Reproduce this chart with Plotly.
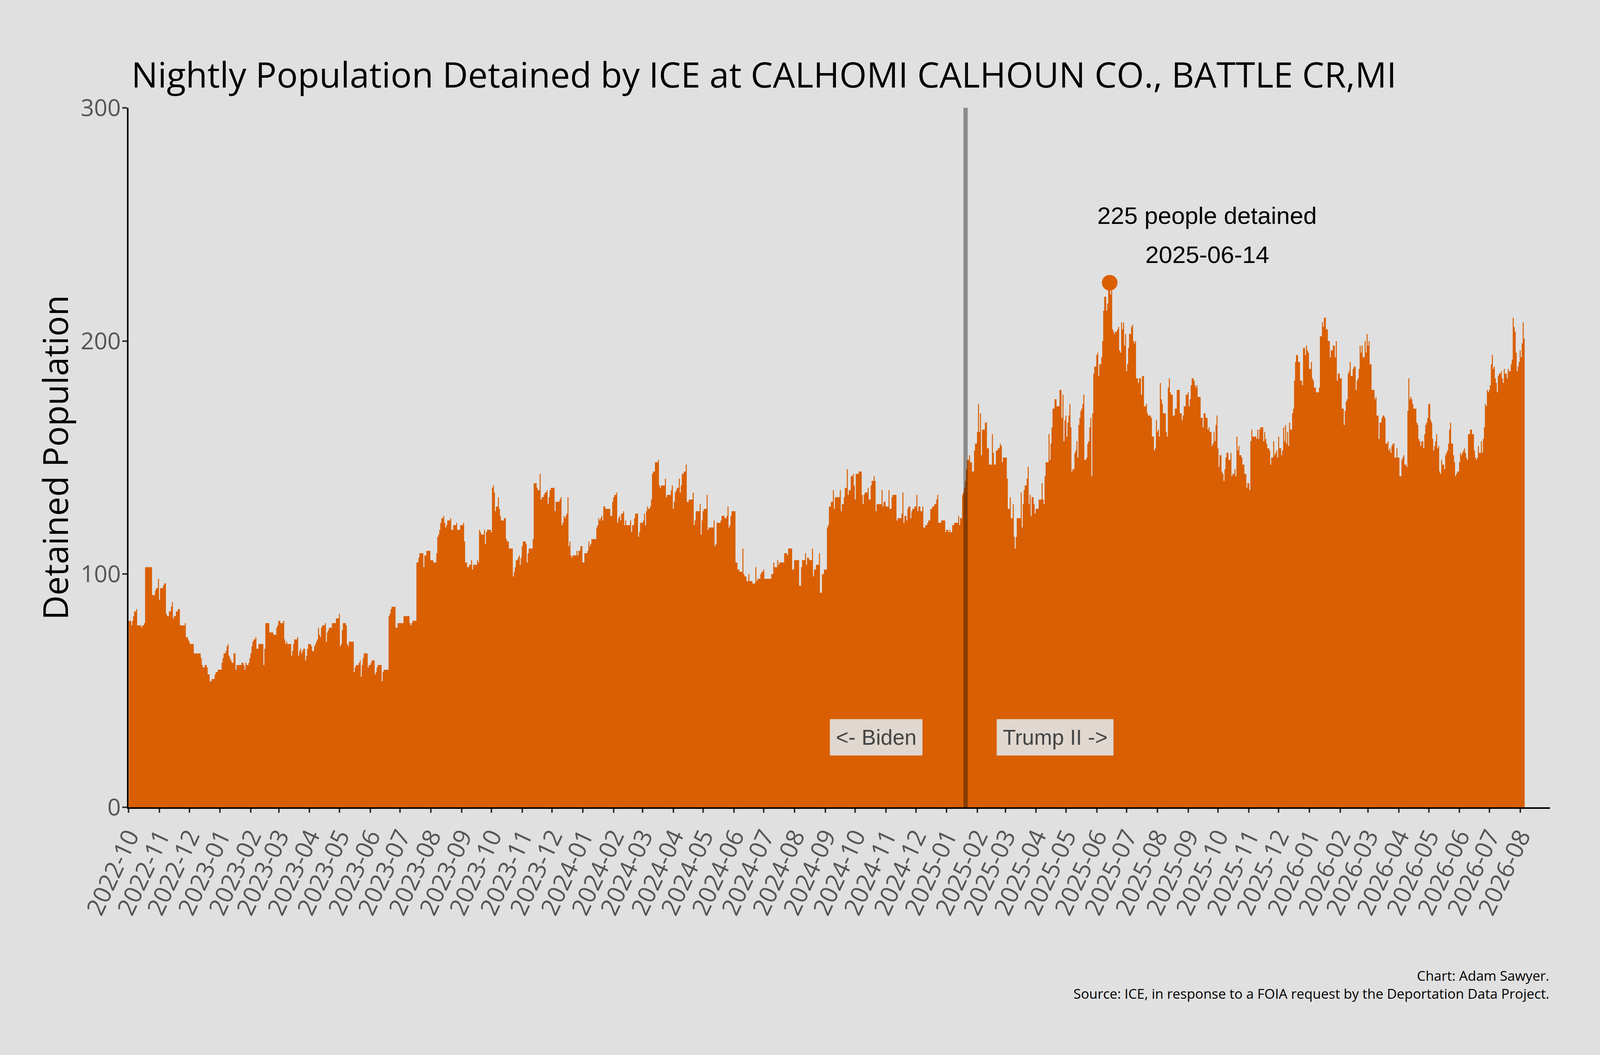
import pandas as pd
import plotly.graph_objects as go

# ---------------- data ----------------
START_DATE = "2022-10-01"
X_END = "2026-08-31"
TRANSITION_DATE = "2025-01-20"
PEAK_DATE = "2025-06-14"
PEAK_VALUE = 225
PEAK_LABEL_DATE = "2025-09-20"
Y_TICKS = [0, 100, 200, 300]

# day offsets (from START_DATE) at which the nightly count changes
DAY_OFFSETS = [
    0, 3, 4, 5, 6, 8, 9, 13, 14, 16, 17, 24, 27, 28, 30, 31, 32, 35, 36, 38, 39, 41, 43, 44, 45, 46, 48, 50,
    52, 57, 58, 60, 61, 62, 66, 73, 74, 75, 77, 79, 80, 82, 84, 87, 88, 90, 94, 95, 96, 98, 99, 100, 101,
    102, 103, 104, 106, 108, 109, 114, 116, 117, 118, 119, 121, 122, 123, 124, 125, 126, 128, 129, 131,
    136, 137, 138, 142, 146, 149, 150, 151, 153, 156, 157, 158, 159, 160, 164, 165, 166, 167, 170, 171,
    172, 173, 174, 175, 176, 178, 179, 180, 181, 184, 185, 187, 188, 189, 190, 191, 192, 193, 194, 195,
    198, 199, 200, 201, 202, 205, 209, 212, 213, 214, 215, 216, 219, 220, 221, 222, 227, 228, 229, 232,
    233, 234, 235, 236, 237, 241, 242, 244, 245, 248, 249, 250, 251, 255, 256, 257, 262, 263, 264, 265,
    269, 271, 277, 283, 284, 285, 286, 290, 292, 293, 297, 298, 300, 304, 307, 310, 311, 312, 313, 314,
    315, 317, 318, 319, 320, 321, 324, 325, 327,
    330, 331, 334, 337, 338, 339, 341, 343, 345, 346, 347, 351, 352, 353, 354, 355, 358, 359, 360, 361,
    365, 366, 367, 368, 369, 370, 372, 373, 374, 375, 378, 380, 381, 383, 387, 388, 389, 390, 392, 393,
    394, 395, 396, 397, 400, 401, 402, 403, 407, 408, 411, 412, 414, 415, 416, 418, 419, 421, 422, 423,
    424, 425, 429, 430, 434, 435, 436, 437, 438, 439, 440, 441, 442, 443, 444, 445, 446, 447, 451, 452,
    453, 455, 457, 459, 462, 463, 464, 465, 466, 471, 472, 473, 474, 475, 476, 477, 478, 480, 485, 487,
    488, 489, 491, 492, 493, 494, 495, 496, 498, 499, 500, 501, 505, 506, 507, 509, 510, 513, 514, 515,
    518, 519, 520, 521, 522, 523, 525, 526, 527, 528, 530, 533, 534, 535, 536, 540, 541, 542, 546, 547,
    548, 549, 550, 551, 552, 554, 555, 556, 557, 559, 561, 562, 564, 568, 569, 570, 571, 575, 576, 577,
    578, 579, 582, 583, 584, 589, 590, 591, 592, 596, 597, 600, 602, 603, 604, 605, 606, 607,
    608, 611, 613, 615, 618, 619, 620, 622, 624, 625, 628, 631, 632, 633, 636, 637, 639, 640, 647, 649,
    650, 653, 654, 655, 660, 663, 664, 668, 670, 675, 677, 678, 681, 682, 683, 685, 688, 689, 690, 692,
    695, 696, 698, 700, 703, 704, 705, 707, 709, 710, 711, 716, 717, 718, 720, 721, 723, 724, 725, 727,
    729, 730, 731, 732, 735, 738, 739, 740, 741, 744, 745, 747, 748, 750, 751, 752, 753, 758, 759, 760,
    762, 765, 766, 768, 769, 773, 774, 778, 779, 780, 781, 783, 784, 785, 787, 788, 789, 791, 793, 794,
    795, 797, 799, 800, 802, 804, 805, 807, 809, 811, 813, 814, 815, 818, 822, 823, 825, 826, 827, 829,
    831, 835, 836, 837, 839, 840, 841, 842, 843, 844, 846, 847, 849, 851, 852, 854, 855, 856, 857, 858,
    859, 862, 864, 866, 869, 870, 871, 873, 875, 877, 878, 879, 880, 884, 885, 887, 888, 890, 891, 892,
    893, 894, 898, 899, 900, 901, 902, 904, 905, 906, 907, 908, 909, 911, 912, 913, 916, 919, 920, 921,
    922, 923, 926, 927, 928, 929, 930, 932, 934, 937,
    939, 940, 941, 942, 943, 944, 945, 946, 947, 948, 949, 950, 952, 953, 954, 955, 956, 957, 958, 959,
    960, 961, 962, 964, 965, 966, 967, 968, 969, 970, 971, 972, 974, 975, 976, 977, 979, 980, 981, 982,
    984, 985, 986, 987, 988, 989, 990, 991, 992, 993, 995, 996, 997, 998, 999, 1000, 1001, 1002, 1003,
    1004, 1005, 1006, 1007, 1009, 1010, 1011, 1012, 1013, 1014, 1016, 1017, 1019, 1020, 1022, 1024, 1025,
    1026, 1029, 1030, 1032, 1033, 1034, 1035, 1036, 1037, 1038, 1039, 1040, 1041, 1044, 1045, 1046, 1047,
    1048, 1049, 1051, 1053, 1055, 1058, 1060, 1061, 1062, 1064, 1066, 1067, 1068, 1069, 1070, 1072, 1073,
    1074, 1075, 1076, 1079, 1081, 1082, 1084, 1086, 1087, 1088, 1090, 1091, 1092, 1093, 1094, 1095, 1096,
    1097, 1098, 1100, 1101, 1102, 1103, 1104, 1105, 1107, 1109, 1110, 1111, 1113, 1114, 1115, 1116, 1117,
    1118, 1120, 1121, 1123, 1125, 1126, 1128, 1129, 1130, 1131, 1135, 1136, 1137, 1138, 1139, 1142, 1143,
    1144, 1145, 1146, 1148, 1149, 1150, 1152, 1153, 1154, 1155, 1156, 1157, 1158, 1160, 1161, 1162, 1163,
    1164, 1165, 1166, 1167, 1168, 1169, 1171, 1172, 1173, 1174, 1175, 1177, 1179, 1181, 1182, 1184, 1185,
    1186, 1187, 1188, 1190, 1191, 1192, 1193, 1195, 1198, 1199, 1201, 1202, 1203, 1205, 1207, 1209, 1210,
    1212, 1214, 1215, 1216, 1217, 1219, 1221, 1223, 1224, 1225, 1226, 1227, 1228, 1229, 1230, 1232, 1233,
    1235, 1236, 1237, 1238, 1239, 1240, 1241, 1242, 1244, 1245, 1246, 1247, 1248, 1249, 1251, 1254, 1255,
    1256, 1258, 1259, 1261, 1262, 1264, 1265, 1267, 1268, 1269, 1270, 1271, 1272, 1274, 1276, 1277, 1279,
    1281, 1282, 1283, 1284, 1286, 1287, 1288, 1289, 1290, 1291, 1292, 1293, 1296, 1297, 1298, 1299, 1300,
    1301, 1303, 1304, 1305, 1306, 1307, 1308, 1310, 1311, 1312, 1313, 1314, 1315, 1316, 1317, 1318, 1319,
    1320, 1321, 1322, 1324, 1325, 1326, 1327, 1328, 1329, 1330, 1331, 1333, 1334, 1335, 1336, 1337, 1339,
    1340, 1341, 1342, 1343, 1344, 1345, 1346, 1347, 1348, 1350, 1352, 1354, 1355, 1356, 1357, 1358, 1359,
    1361, 1362, 1363, 1364, 1365, 1366, 1367, 1368, 1369, 1370, 1371, 1372, 1373, 1374, 1375, 1376, 1377,
    1378, 1379, 1381, 1382, 1383, 1384, 1385, 1387, 1388, 1389, 1391, 1392, 1393, 1394, 1395, 1396, 1397,
    1398, 1399, 1400, 1401, 1402, 1403, 1404, 1405,
]

DETAINED = [
    80, 78, 80, 82, 84, 85, 78, 77, 78, 79, 103, 91, 93, 94, 98, 89, 94, 95, 96, 83, 82, 84, 86, 88, 81, 82, 84, 85,
    78, 79, 73, 72, 71, 70, 66, 64, 61, 60, 61, 60, 57, 54, 55, 57, 58, 59, 62, 64, 66, 67, 69, 70, 65,
    64, 63, 62, 66, 59, 61, 62, 61, 59, 62, 61, 62, 64, 66, 69, 71, 72, 73, 68, 70,
    61, 68, 79, 75, 74, 77, 78, 80, 79, 80, 72, 70, 71, 70, 65, 67, 70, 72, 73, 65,
    67, 68, 66, 67, 68, 63, 65, 68, 70, 69, 67, 69, 70, 71, 72, 77, 74, 73, 77, 78,
    79, 71, 75, 76, 77, 79, 81, 83, 69, 70, 76, 79, 78, 70, 69, 71, 58, 60, 61, 62,
    63, 56, 61, 64, 66, 60, 61, 62, 63, 57, 58, 60, 61, 54, 58, 59, 82, 83, 85, 86,
    77, 79, 82, 79, 78, 79, 80, 105, 107, 109, 103, 108, 110, 106, 105, 109, 116, 117, 119, 122,
    124, 125, 122, 120, 121, 123, 124, 119, 121,
    122, 119, 121, 122, 114, 105, 103, 104, 106, 102, 104, 106, 105, 119, 118, 117, 119, 113, 118, 119,
    118, 137, 138, 135, 127, 129, 133, 128, 125, 123, 124, 115, 114, 111, 99, 101, 103, 106, 107, 108,
    104, 107, 112, 114, 113, 105, 109, 111, 115, 139, 137, 136, 143, 132, 133, 134, 135, 136, 130, 133,
    136, 137, 127, 131, 132, 133, 121, 122, 125, 124, 125, 126, 133, 112, 114, 108, 107, 108, 110, 108,
    110, 112, 105, 109, 110, 114, 112, 113, 115, 120, 121, 124, 123, 124, 125, 123, 129, 128, 125, 131,
    133, 134, 135, 122, 124, 125, 123, 126, 127, 121, 123, 121, 123, 118, 121, 124, 126, 116, 118, 122,
    123, 126, 121, 127, 129, 128, 129, 132, 143, 144, 148, 149, 138, 137, 138, 141, 133, 134, 136, 138,
    128, 131, 135, 136, 137, 141, 135, 138, 143, 144, 147, 131, 132, 135, 121, 123, 127, 130, 117, 123,
    127, 128, 134, 119, 120, 123, 112, 113, 122, 123, 125, 124, 125, 129, 120, 121, 125, 127,
    127, 105, 102, 101, 111, 100, 99, 97, 100, 97, 96, 103, 97, 98, 100, 101, 102, 98, 100, 105,
    103, 106, 104, 105, 109, 108, 111, 102, 106, 95, 103, 106, 109, 104, 107, 106, 111, 99, 102, 104,
    109, 92, 100, 102, 120, 121, 129, 131, 136, 128, 133, 136, 127, 130, 133, 137, 145, 134, 136, 142,
    143, 138, 132, 143, 144, 134, 130, 134, 135, 137, 132, 138, 140, 142, 140, 127, 130, 136, 129, 131,
    129, 136, 128, 133, 134, 123, 124, 126, 135, 122, 125, 123, 128, 129, 124, 127, 128, 129, 134, 127,
    129, 127, 129, 120, 121, 122, 123, 128, 129, 130, 132, 134, 122, 123, 118, 119, 118, 119, 118, 121,
    122, 125, 121, 124, 134, 135, 137, 140, 145, 149, 151, 148, 144, 153, 156, 161, 173, 161, 169, 151,
    162, 165, 154, 147, 160, 152, 147, 153, 154, 156, 155, 148, 150, 141, 128, 133, 124, 130, 116, 111,
    116, 124, 135, 120, 130, 136, 138, 141, 146, 130, 134, 125, 133, 130, 126, 128, 132, 139, 132, 130,
    142, 148, 160, 149, 156, 163, 171, 175, 172, 179,
    167, 177, 157, 166, 168, 159, 165, 168, 173, 163, 144, 145, 152, 153, 157, 150, 164, 167, 170, 171,
    173, 177, 149, 150, 156, 157, 163, 167, 142, 169, 186, 189, 194, 195, 185, 190, 193, 200, 213, 219,
    213, 216, 222, 225, 220, 222, 205, 204, 203, 204, 205, 206, 196, 195, 208, 205, 208, 198, 203,
    187, 190, 197, 203, 206, 207, 200, 199, 200, 184, 182, 184, 177, 185, 172, 173, 169,
    168, 167, 159, 153, 154, 166, 161, 162, 159, 182, 175, 173, 169, 161, 159, 180, 184,
    178, 177, 168, 171, 179, 169, 166, 168, 172, 177, 178, 172, 175, 181, 184, 183, 181,
    180, 181, 176, 167, 163, 169, 167, 162, 163, 161, 155, 156, 161, 157, 164, 168, 154,
    146, 151, 144, 143, 140, 145, 150, 152, 149, 152, 142, 143, 145, 142, 159, 153, 155,
    151, 150, 147, 143, 137, 139, 136, 157, 162, 159, 158, 162, 158, 162, 163, 157, 161,
    158, 156, 154, 153, 147, 150, 157, 151, 152, 153, 150, 159, 154, 151, 153, 163, 157,
    164, 156, 161, 155, 165, 162, 169, 171, 183, 191, 194, 191, 183, 181, 197, 194, 198,
    196, 195, 188, 191, 184, 183, 180, 178, 180, 202, 208, 206, 210, 205, 200, 193, 196,
    198, 193, 200, 183, 186, 184, 171, 164, 170, 174, 175, 186, 187, 191, 185, 188, 189,
    179, 183, 184, 188, 198, 195, 198, 193, 200, 195, 203, 198, 200, 190, 179, 175, 176,
    168, 158, 165, 167, 168, 167, 156, 157, 153, 154, 152, 155, 156, 150, 154, 150, 142,
    149, 150, 151, 147, 146, 170, 184, 175, 176, 175, 173, 171, 165, 164, 158, 157, 155,
    157, 154, 160, 164, 165, 167, 173, 166, 165, 158, 153, 155, 157, 160, 154, 155, 144,
    143, 149, 147, 145, 151, 152, 153, 156, 162, 165, 156, 151, 148, 142, 143, 144, 148,
    152, 151, 152, 153, 154, 152, 150, 149, 160, 162, 160, 153, 150, 149, 150, 155, 152,
    157, 152, 158, 163, 173, 172, 179, 178, 179, 181, 190, 194, 188, 189, 184, 182, 178,
    185, 186, 187, 184, 182, 188, 186, 184, 188, 187, 190, 192, 210, 206, 204, 195, 187,
    189, 191, 196, 193, 199, 208, 201, 201,
]

TITLE = "Nightly Population Detained by ICE at CALHOMI CALHOUN CO., BATTLE CR,MI"
Y_TITLE = "Detained Population"
PEAK_LINE1 = "225 people detained"
PEAK_LINE2 = "2025-06-14"
LEFT_LABEL = "&lt;- Biden"
RIGHT_LABEL = "Trump II -&gt;"
FOOTER = "Chart: Adam Sawyer.<br>Source: ICE, in response to a FOIA request by the Deportation Data Project."
LABEL_OFFSET_DAYS = 90
LABEL_Y = 30

# ---------------- styling ----------------
BG = "#e0e0e0"
ORANGE = "#d95f02"
UI_FONT = "Open Sans"
ARIAL = "Liberation Sans, Arial"
REF_W, REF_H = 4800.0, 2700.0
PLOT_L, PLOT_R, PLOT_T, PLOT_B = 386, 4650, 276, 2066   # plot box in reference pixels

start = pd.Timestamp(START_DATE)
x_steps = start + pd.to_timedelta(DAY_OFFSETS, unit="D") - pd.Timedelta(hours=12)

fig = go.Figure()
fig.add_trace(go.Scatter(
    x=x_steps, y=DETAINED, mode="lines",
    line=dict(shape="hv", width=0, color=ORANGE),
    fill="tozeroy", fillcolor=ORANGE, hoverinfo="skip", showlegend=False,
))
fig.add_trace(go.Scatter(
    x=[PEAK_DATE], y=[PEAK_VALUE], mode="markers",
    marker=dict(size=40, color=ORANGE, line=dict(width=0)),
    hoverinfo="skip", showlegend=False,
))

fig.add_shape(type="line", xref="x", yref="y",
              x0=TRANSITION_DATE, x1=TRANSITION_DATE, y0=0, y1=Y_TICKS[-1],
              line=dict(color="rgba(0,0,0,0.38)", width=11), layer="above")

trans = pd.Timestamp(TRANSITION_DATE)
left_x = trans - pd.Timedelta(days=LABEL_OFFSET_DAYS)
right_x = trans + pd.Timedelta(days=LABEL_OFFSET_DAYS)

annotations = [
    dict(x=PEAK_LABEL_DATE, y=PEAK_VALUE, xref="x", yref="y", text=PEAK_LINE1,
         showarrow=False, xanchor="center", yanchor="middle", yshift=172,
         font=dict(family=ARIAL, size=62, color="black")),
    dict(x=PEAK_LABEL_DATE, y=PEAK_VALUE, xref="x", yref="y", text=PEAK_LINE2,
         showarrow=False, xanchor="center", yanchor="middle", yshift=72,
         font=dict(family=ARIAL, size=62, color="black")),
    dict(x=left_x, y=LABEL_Y, xref="x", yref="y", text=LEFT_LABEL, showarrow=False,
         xanchor="center", yanchor="middle", bgcolor="rgba(224,224,224,0.93)",
         borderpad=15, font=dict(family=ARIAL, size=55, color="#444444")),
    dict(x=right_x, y=LABEL_Y, xref="x", yref="y", text=RIGHT_LABEL, showarrow=False,
         xanchor="center", yanchor="middle", bgcolor="rgba(224,224,224,0.93)",
         borderpad=15, font=dict(family=ARIAL, size=55, color="#444444")),
    dict(x=PLOT_R / REF_W, y=1 - 2568 / REF_H, xref="paper", yref="paper", text=FOOTER,
         showarrow=False, xanchor="right", yanchor="bottom", align="right",
         font=dict(family=UI_FONT, size=35, color="black")),
]

fig.update_layout(
    autosize=True,
    paper_bgcolor=BG, plot_bgcolor=BG,
    margin=dict(l=0, r=0, t=0, b=0, pad=0),
    title=dict(text=TITLE, x=394 / REF_W, xanchor="left", xref="container",
               y=1 - 192 / REF_H, yanchor="middle", yref="container",
               font=dict(family=UI_FONT, size=90, color="black")),
    annotations=annotations,
    showlegend=False,
)
fig.update_xaxes(
    domain=[PLOT_L / REF_W, PLOT_R / REF_W], automargin=False,
    type="date", range=[START_DATE, X_END],
    tickmode="linear", tick0=START_DATE, dtick="M1", tickformat="%Y-%m",
    tickangle=-65, ticks="outside", ticklen=10, tickwidth=4, tickcolor="#333333",
    showline=True, linecolor="black", linewidth=4, showgrid=False, zeroline=False,
    tickfont=dict(family=UI_FONT, size=62, color="#555555"),
)
fig.update_yaxes(
    domain=[1 - PLOT_B / REF_H, 1 - PLOT_T / REF_H], automargin=False,
    range=[0, Y_TICKS[-1]], tickmode="array", tickvals=Y_TICKS,
    ticks="outside", ticklen=12, tickwidth=4, tickcolor="#333333",
    ticklabelstandoff=-8,
    showline=True, linecolor="black", linewidth=4, showgrid=False, zeroline=False,
    tickfont=dict(family=UI_FONT, size=60, color="#555555"),
    title=dict(text=Y_TITLE, standoff=4, font=dict(family=UI_FONT, size=87, color="black")),
)

POST = ("document.documentElement.style.margin='0';document.body.style.margin='0';"
        "document.documentElement.style.background='#e0e0e0';document.body.style.background='#e0e0e0';"
        "document.documentElement.style.height='100%';document.body.style.height='100%';"
        "var gd=document.getElementById('{plot_id}');Plotly.Plots.resize(gd);")

fig.write_html("out.html", default_width="100%", default_height="100%",
               config={"responsive": True, "displayModeBar": False}, post_script=POST)
